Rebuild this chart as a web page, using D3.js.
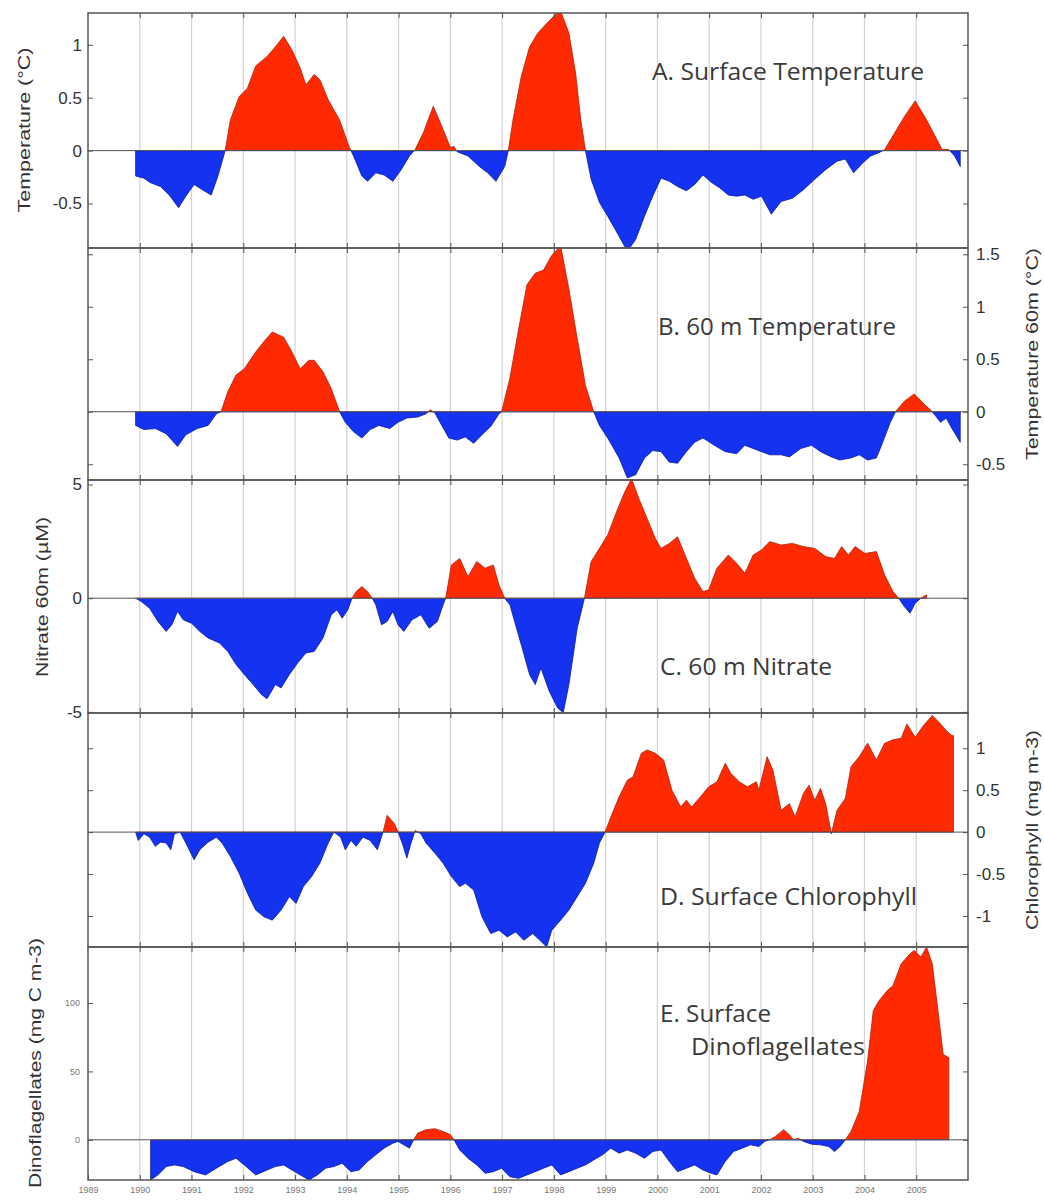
<!DOCTYPE html>
<html>
<head>
<meta charset="utf-8">
<script src="https://cdn.jsdelivr.net/npm/d3@7/dist/d3.min.js"></script>
<style>
body { margin: 0; background: #fff; }
svg { display: block; font-family: "Liberation Sans", Arial, sans-serif; }
.panel-label { font-family: "Open Sans", "DejaVu Sans", sans-serif; fill: #3a3a3a; }
</style>
</head>
<body>
<svg id="chart" width="1044" height="1201"></svg>
<script>
// ---- data: [decimal year, anomaly] ----
var surfaceTemp = [
    [1989.92,-0.24],[1990.08,-0.26],[1990.19,-0.30],[1990.40,-0.34],[1990.57,-0.42],[1990.75,-0.54],[1990.89,-0.43],
    [1991.05,-0.32],[1991.21,-0.37],[1991.38,-0.42],[1991.51,-0.24],[1991.65,0],[1991.75,0.29],[1991.92,0.51],
    [1992.08,0.59],[1992.24,0.80],[1992.46,0.89],[1992.62,0.98],[1992.78,1.08],[1992.94,0.95],[1993.10,0.78],
    [1993.21,0.62],[1993.37,0.72],[1993.48,0.67],[1993.64,0.48],[1993.86,0.29],[1994.05,0.03],[1994.13,-0.05],
    [1994.29,-0.24],[1994.40,-0.29],[1994.56,-0.21],[1994.72,-0.23],[1994.89,-0.29],[1995.05,-0.18],[1995.21,-0.05],
    [1995.32,0.01],[1995.48,0.17],[1995.67,0.42],[1995.86,0.20],[1996.00,0.03],[1996.07,0.04],[1996.13,-0.01],
    [1996.34,-0.05],[1996.56,-0.15],[1996.72,-0.21],[1996.88,-0.29],[1997.05,-0.15],[1997.12,0],[1997.21,0.29],
    [1997.37,0.70],[1997.53,0.98],[1997.69,1.11],[1997.86,1.20],[1998.02,1.28],[1998.13,1.32],[1998.29,1.11],
    [1998.42,0.73],[1998.52,0.29],[1998.61,0],[1998.72,-0.27],[1998.88,-0.49],[1999.04,-0.62],[1999.26,-0.81],
    [1999.42,-0.95],[1999.58,-0.84],[1999.75,-0.62],[1999.91,-0.43],[2000.07,-0.26],[2000.23,-0.29],[2000.39,-0.34],
    [2000.56,-0.38],[2000.72,-0.32],[2000.88,-0.23],[2001.04,-0.30],[2001.20,-0.35],[2001.37,-0.42],[2001.53,-0.43],
    [2001.69,-0.42],[2001.85,-0.46],[2002.01,-0.43],[2002.20,-0.60],[2002.39,-0.48],[2002.61,-0.45],[2002.82,-0.37],
    [2003.04,-0.27],[2003.25,-0.18],[2003.47,-0.10],[2003.63,-0.08],[2003.79,-0.21],[2003.96,-0.12],[2004.12,-0.05],
    [2004.28,-0.02],[2004.39,0.01],[2004.55,0.14],[2004.77,0.32],[2004.98,0.47],[2005.20,0.29],[2005.36,0.14],
    [2005.50,0.01],[2005.63,0.01],[2005.74,-0.05],[2005.85,-0.15]
];
var temp60m = [
    [1989.92,-0.13],[1990.08,-0.17],[1990.30,-0.16],[1990.51,-0.21],[1990.73,-0.33],[1990.89,-0.22],[1991.11,-0.16],
    [1991.32,-0.13],[1991.48,-0.02],[1991.57,0],[1991.70,0.19],[1991.86,0.35],[1992.02,0.41],[1992.24,0.57],
    [1992.40,0.67],[1992.56,0.76],[1992.78,0.71],[1992.94,0.57],[1993.10,0.41],[1993.27,0.49],[1993.37,0.49],
    [1993.54,0.38],[1993.70,0.22],[1993.86,0],[1993.97,-0.10],[1994.13,-0.19],[1994.29,-0.25],[1994.45,-0.17],
    [1994.62,-0.13],[1994.83,-0.16],[1994.99,-0.10],[1995.16,-0.06],[1995.37,-0.05],[1995.53,-0.02],[1995.61,0.02],
    [1995.70,-0.01],[1995.80,-0.10],[1995.97,-0.25],[1996.13,-0.27],[1996.29,-0.24],[1996.45,-0.30],[1996.61,-0.22],
    [1996.78,-0.14],[1996.94,-0.02],[1996.99,0],[1997.15,0.32],[1997.32,0.79],[1997.48,1.21],[1997.64,1.32],
    [1997.80,1.35],[1997.96,1.49],[1998.13,1.58],[1998.29,1.17],[1998.45,0.70],[1998.61,0.25],[1998.77,0],
    [1998.88,-0.13],[1999.04,-0.25],[1999.26,-0.44],[1999.42,-0.63],[1999.58,-0.60],[1999.75,-0.44],[1999.91,-0.37],
    [2000.07,-0.38],[2000.23,-0.48],[2000.39,-0.49],[2000.56,-0.38],[2000.72,-0.29],[2000.88,-0.25],[2001.10,-0.32],
    [2001.31,-0.38],[2001.53,-0.40],[2001.69,-0.32],[2001.85,-0.35],[2002.01,-0.38],[2002.17,-0.41],[2002.39,-0.41],
    [2002.55,-0.43],[2002.77,-0.35],[2002.98,-0.32],[2003.15,-0.38],[2003.36,-0.43],[2003.52,-0.46],[2003.74,-0.44],
    [2003.90,-0.41],[2004.06,-0.46],[2004.23,-0.44],[2004.33,-0.32],[2004.50,-0.10],[2004.60,0],[2004.77,0.10],
    [2004.96,0.17],[2005.14,0.08],[2005.31,0],[2005.47,-0.10],[2005.58,-0.06],[2005.69,-0.16],[2005.85,-0.29]
];
var nitrate60m = [
    [1989.92,0],[1990.03,-0.15],[1990.19,-0.44],[1990.35,-1.02],[1990.51,-1.46],[1990.62,-1.17],[1990.73,-0.58],
    [1990.84,-0.95],[1991.00,-1.10],[1991.16,-1.46],[1991.32,-1.75],[1991.54,-1.97],[1991.70,-2.34],[1991.86,-2.92],
    [1992.02,-3.36],[1992.19,-3.80],[1992.35,-4.24],[1992.46,-4.42],[1992.62,-3.80],[1992.73,-3.95],[1992.89,-3.36],
    [1993.05,-2.85],[1993.21,-2.41],[1993.37,-2.34],[1993.54,-1.75],[1993.70,-0.73],[1993.81,-0.51],[1993.91,-0.88],
    [1994.02,-0.51],[1994.10,0],[1994.18,0.29],[1994.29,0.51],[1994.40,0.29],[1994.49,0],[1994.56,-0.29],
    [1994.67,-1.17],[1994.78,-1.02],[1994.89,-0.58],[1994.99,-1.17],[1995.10,-1.46],[1995.26,-0.95],[1995.43,-0.73],
    [1995.59,-1.32],[1995.75,-1.02],[1995.86,-0.29],[1995.91,0],[1996.02,1.46],[1996.18,1.75],[1996.34,0.95],
    [1996.51,1.61],[1996.67,1.32],[1996.83,1.46],[1996.94,0.58],[1997.05,0],[1997.15,-0.29],[1997.26,-1.17],
    [1997.37,-2.05],[1997.53,-3.36],[1997.64,-3.80],[1997.75,-3.07],[1997.91,-4.09],[1998.07,-4.82],[1998.18,-5.04],
    [1998.29,-3.80],[1998.45,-1.32],[1998.59,0],[1998.72,1.61],[1998.88,2.19],[1999.04,2.78],[1999.21,3.80],
    [1999.37,4.68],[1999.50,5.26],[1999.64,4.39],[1999.80,3.51],[1999.96,2.63],[2000.07,2.19],[2000.23,2.41],
    [2000.39,2.70],[2000.56,1.75],[2000.72,0.88],[2000.88,0.29],[2000.99,0.37],[2001.15,1.32],[2001.37,1.90],
    [2001.53,1.54],[2001.69,1.10],[2001.85,1.90],[2002.01,2.12],[2002.17,2.49],[2002.39,2.34],[2002.61,2.41],
    [2002.82,2.27],[2003.04,2.19],[2003.25,1.83],[2003.42,1.75],[2003.56,2.27],[2003.69,1.90],[2003.82,2.27],
    [2004.01,1.97],[2004.23,2.05],[2004.39,1.02],[2004.55,0.29],[2004.66,0],[2004.77,-0.37],[2004.88,-0.66],
    [2004.98,-0.22],[2005.09,0],[2005.20,0.15]
];
var chlorophyll = [
    [1989.92,0],[1989.97,-0.10],[1990.08,-0.02],[1990.19,-0.06],[1990.30,-0.17],[1990.40,-0.12],[1990.51,-0.13],
    [1990.60,-0.21],[1990.67,-0.02],[1990.78,0],[1990.89,-0.13],[1991.05,-0.33],[1991.16,-0.21],[1991.32,-0.12],
    [1991.48,-0.06],[1991.59,-0.13],[1991.75,-0.29],[1991.92,-0.49],[1992.08,-0.73],[1992.24,-0.93],[1992.40,-1.01],
    [1992.56,-1.05],[1992.73,-0.93],[1992.89,-0.77],[1993.02,-0.85],[1993.16,-0.65],[1993.32,-0.53],[1993.48,-0.37],
    [1993.64,-0.13],[1993.75,0],[1993.88,-0.06],[1993.97,-0.21],[1994.08,-0.10],[1994.18,-0.17],[1994.31,-0.06],
    [1994.45,-0.10],[1994.59,-0.21],[1994.70,0],[1994.78,0.20],[1994.92,0.10],[1994.99,0],[1995.07,-0.13],
    [1995.16,-0.31],[1995.24,-0.13],[1995.32,0.02],[1995.43,-0.02],[1995.53,-0.13],[1995.70,-0.25],[1995.86,-0.37],
    [1996.02,-0.53],[1996.18,-0.65],[1996.29,-0.61],[1996.45,-0.69],[1996.61,-1.01],[1996.78,-1.21],[1996.94,-1.17],
    [1997.10,-1.25],[1997.26,-1.19],[1997.42,-1.29],[1997.59,-1.21],[1997.73,-1.29],[1997.86,-1.37],[1997.96,-1.17],
    [1998.13,-1.05],[1998.29,-0.93],[1998.45,-0.77],[1998.61,-0.61],[1998.77,-0.37],[1998.88,-0.13],[1998.99,0],
    [1999.10,0.18],[1999.26,0.42],[1999.42,0.62],[1999.53,0.66],[1999.69,0.94],[1999.80,0.98],[1999.96,0.94],
    [2000.12,0.86],[2000.28,0.50],[2000.45,0.30],[2000.56,0.38],[2000.66,0.30],[2000.83,0.42],[2000.99,0.54],
    [2001.15,0.60],[2001.31,0.82],[2001.42,0.70],[2001.58,0.60],[2001.74,0.54],[2001.91,0.60],[2001.96,0.50],
    [2002.12,0.90],[2002.23,0.74],[2002.39,0.26],[2002.55,0.34],[2002.66,0.18],[2002.82,0.46],[2002.93,0.56],
    [2003.04,0.38],[2003.15,0.52],[2003.25,0.34],[2003.36,-0.02],[2003.47,0.26],[2003.63,0.40],[2003.74,0.78],
    [2003.90,0.90],[2004.06,1.06],[2004.23,0.86],[2004.39,1.06],[2004.55,1.10],[2004.71,1.12],[2004.82,1.29],
    [2004.98,1.13],[2005.14,1.27],[2005.31,1.39],[2005.47,1.29],[2005.58,1.21],[2005.69,1.15],[2005.72,1.15]
];
var dinoflagellates = [
    [1990.21,-29.4],[1990.35,-25.7],[1990.51,-19.6],[1990.67,-18.4],[1990.84,-19.6],[1991.05,-23.3],[1991.27,-25.7],
    [1991.48,-20.8],[1991.70,-15.9],[1991.86,-13.5],[1992.02,-18.4],[1992.24,-25.7],[1992.46,-22.1],[1992.62,-19.6],
    [1992.78,-18.4],[1992.94,-22.1],[1993.16,-27.0],[1993.27,-29.4],[1993.43,-25.7],[1993.59,-20.8],[1993.75,-19.6],
    [1993.91,-17.2],[1994.08,-23.3],[1994.24,-22.1],[1994.40,-15.9],[1994.56,-11.0],[1994.72,-6.1],[1994.89,-2.5],
    [1994.99,-1.2],[1995.10,-3.7],[1995.21,-6.1],[1995.29,0],[1995.37,4.9],[1995.53,7.4],[1995.70,8.1],
    [1995.86,6.1],[1996.00,3.7],[1996.07,0],[1996.18,-7.4],[1996.34,-13.5],[1996.51,-18.4],[1996.67,-24.5],
    [1996.83,-23.3],[1996.99,-20.8],[1997.15,-27.0],[1997.32,-28.2],[1997.48,-25.7],[1997.64,-23.3],[1997.80,-20.8],
    [1997.96,-18.4],[1998.13,-25.7],[1998.29,-23.3],[1998.45,-20.8],[1998.61,-18.4],[1998.77,-14.7],[1998.94,-11.0],
    [1999.10,-6.1],[1999.26,-9.8],[1999.42,-7.4],[1999.58,-9.8],[1999.75,-13.5],[1999.91,-8.6],[2000.07,-7.4],
    [2000.23,-15.9],[2000.39,-23.3],[2000.56,-20.8],[2000.72,-18.4],[2000.88,-22.1],[2001.04,-24.5],[2001.15,-25.7],
    [2001.31,-15.9],[2001.47,-8.6],[2001.64,-6.1],[2001.80,-3.7],[2001.96,-4.9],[2002.07,-1.2],[2002.17,0],
    [2002.28,2.5],[2002.44,7.4],[2002.55,3.7],[2002.63,0],[2002.72,1.2],[2002.82,-1.2],[2002.98,-3.2],
    [2003.15,-3.7],[2003.31,-4.9],[2003.42,-8.6],[2003.53,-4.9],[2003.63,0],[2003.74,6.1],[2003.90,20.8],
    [2004.06,57.6],[2004.17,94.4],[2004.28,101.7],[2004.44,109.1],[2004.55,112.7],[2004.71,128.7],[2004.88,136.0],
    [2004.96,138.5],[2005.09,133.6],[2005.20,141.0],[2005.31,128.7],[2005.42,94.4],[2005.52,62.5],[2005.63,60.0]
];

var yearTicks = [1989, 1990, 1991, 1992, 1993, 1994, 1995, 1996, 1997, 1998, 1999, 2000, 2001, 2002, 2003, 2004, 2005];
var gridYears = [1990, 1991, 1992, 1993, 1994, 1995, 1996, 1997, 1998, 1999, 2000, 2001, 2002, 2003, 2004, 2005];
var tempTicks = [-0.5, 0, 0.5, 1];
var temp60Ticks = [-0.5, 0, 0.5, 1, 1.5];
var nitrateTicks = [-5, 0, 5];
var chlTicks = [-1, -0.5, 0, 0.5, 1];
var dinoTicks = [0, 50, 100];

var RED = '#ff2a00', RED_EDGE = '#b3200a',
    BLUE = '#1432f0', BLUE_EDGE = '#0b1c9c';

var left = 88, right = 968;

var panels = [
    {data: surfaceTemp, top: 13, bottom: 248, domain: [-0.92, 1.30], ticks: tempTicks, side: 'left',
     title: 'Temperature (\u00b0C)', titleX: 30, titleY: 130, titleLen: 165,
     labels: [{t: 'A. Surface Temperature', x: 652, y: 80, w: 272}]},
    {data: temp60m, top: 248, bottom: 480, domain: [-0.65, 1.56], ticks: temp60Ticks, side: 'right',
     title: 'Temperature 60m (\u00b0C)', titleX: 1038, titleY: 354, titleLen: 212,
     labels: [{t: 'B. 60 m Temperature', x: 658, y: 335, w: 238}]},
    {data: nitrate60m, top: 480, bottom: 713, domain: [-5.05, 5.2], ticks: nitrateTicks, side: 'left',
     title: 'Nitrate 60m (\u00b5M)', titleX: 48, titleY: 597, titleLen: 160,
     labels: [{t: 'C. 60 m Nitrate', x: 660, y: 675, w: 172}]},
    {data: chlorophyll, top: 713, bottom: 947, domain: [-1.37, 1.42], ticks: chlTicks, side: 'right',
     title: 'Chlorophyll (mg m-3)', titleX: 1038, titleY: 830, titleLen: 200,
     labels: [{t: 'D. Surface Chlorophyll', x: 660, y: 905, w: 257}]},
    {data: dinoflagellates, top: 947, bottom: 1180, domain: [-29.4, 141], ticks: dinoTicks, side: 'left',
     title: 'Dinoflagellates (mg C m-3)', titleX: 41, titleY: 1063, titleLen: 250, small: true,
     labels: [{t: 'E. Surface', x: 660, y: 1022, w: 111}, {t: 'Dinoflagellates', x: 691, y: 1055, w: 174}]}
];

var svg = d3.select('#chart');
var defs = svg.append('defs');
var x = d3.scaleLinear().domain([1989, 2006]).range([left, right]);

panels.forEach(function (p, i) {
    var y = d3.scaleLinear().domain(p.domain).range([p.bottom, p.top]);
    var g = svg.append('g').attr('class', 'panel');
    var y0 = y(0);

    defs.append('clipPath').attr('id', 'pos' + i).append('rect')
        .attr('x', left).attr('y', p.top).attr('width', right - left).attr('height', y0 - p.top);
    defs.append('clipPath').attr('id', 'neg' + i).append('rect')
        .attr('x', left).attr('y', y0).attr('width', right - left).attr('height', p.bottom - y0);

    // year gridlines
    g.selectAll('.grid').data(gridYears).enter().append('line')
        .attr('class', 'grid')
        .attr('x1', function (d) { return x(d); })
        .attr('x2', function (d) { return x(d); })
        .attr('y1', p.top).attr('y2', p.bottom)
        .style('stroke', '#d2d2d2').style('stroke-width', 1.2);

    var area = d3.area()
        .x(function (d) { return x(d[0]); })
        .y0(y0)
        .y1(function (d) { return y(d[1]); });

    g.append('path').datum(p.data).attr('d', area)
        .attr('clip-path', 'url(#pos' + i + ')')
        .style('fill', RED).style('stroke', RED_EDGE).style('stroke-width', 0.8);
    g.append('path').datum(p.data).attr('d', area)
        .attr('clip-path', 'url(#neg' + i + ')')
        .style('fill', BLUE).style('stroke', BLUE_EDGE).style('stroke-width', 0.8);

    // zero line
    g.append('line')
        .attr('x1', left).attr('x2', right).attr('y1', y0).attr('y2', y0)
        .style('stroke', '#555').style('stroke-width', 1);

    // inward ticks on all four sides, labels only on one
    var fmt = function (d) { return String(d); };
    var yl = d3.axisLeft(y).tickValues(p.ticks).tickSize(-5).tickPadding(p.small ? 8 : 6)
        .tickFormat(p.side === 'left' ? fmt : '');
    var yr = d3.axisRight(y).tickValues(p.ticks).tickSize(-5).tickPadding(8)
        .tickFormat(p.side === 'right' ? fmt : '');
    var xt = d3.axisTop(x).tickValues(gridYears).tickSize(-5).tickFormat('');
    var xb = d3.axisBottom(x).tickValues(p.small ? yearTicks : gridYears).tickSize(-5)
        .tickPadding(7).tickFormat(p.small ? fmt : '');

    var axes = [
        g.append('g').attr('transform', 'translate(' + left + ',0)').call(yl),
        g.append('g').attr('transform', 'translate(' + right + ',0)').call(yr),
        g.append('g').attr('transform', 'translate(0,' + p.top + ')').call(xt),
        g.append('g').attr('transform', 'translate(0,' + p.bottom + ')').call(xb)
    ];
    axes.forEach(function (a) {
        a.select('.domain').remove();
        a.selectAll('.tick line').style('stroke', '#555').style('stroke-width', 1);
        a.selectAll('.tick text').style('font-family', '"Liberation Sans", Arial, sans-serif')
            .style('font-size', p.small ? '9px' : '17px')
            .style('fill', p.small ? '#777' : '#333');
    });

    // frame
    g.append('rect')
        .attr('x', left).attr('y', p.top).attr('width', right - left).attr('height', p.bottom - p.top)
        .style('fill', 'none').style('stroke', '#555').style('stroke-width', 1.5);

    // axis title
    g.append('text')
        .attr('transform', 'translate(' + p.titleX + ',' + p.titleY + ') rotate(-90)')
        .attr('text-anchor', 'middle')
        .attr('textLength', p.titleLen).attr('lengthAdjust', 'spacingAndGlyphs')
        .style('font-size', '17px').style('fill', '#333')
        .text(p.title);

    // panel label
    p.labels.forEach(function (l) {
        g.append('text').attr('class', 'panel-label')
            .attr('x', l.x).attr('y', l.y)
            .attr('textLength', l.w).attr('lengthAdjust', 'spacingAndGlyphs')
            .style('font-size', '23px')
            .text(l.t);
    });
});
</script>
</body>
</html>
